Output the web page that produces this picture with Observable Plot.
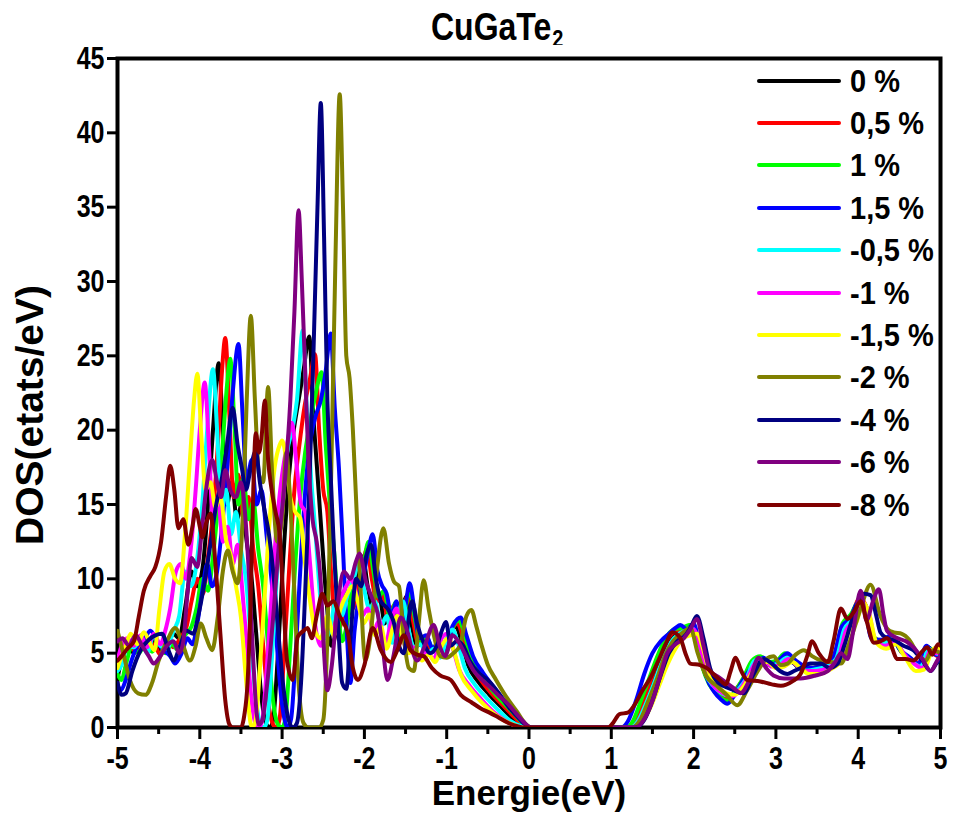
<!DOCTYPE html>
<html>
<head>
<meta charset="utf-8">
<script src="https://cdn.jsdelivr.net/npm/d3@7"></script>
<script src="https://cdn.jsdelivr.net/npm/@observablehq/plot@0.6"></script>
<style>
  body { margin: 0; background: #fff; }
  #wrap { position: relative; width: 956px; height: 827px; font-family: "Liberation Sans", Arial, sans-serif; font-weight: bold; color: #000; }
  #title { position: absolute; left: 431px; top: 11px; font-size: 32px; line-height: 36px; white-space: nowrap; transform: scaleY(1.22); transform-origin: 0 29px; }
  #title sub { font-size: 20px; position: relative; top: 6px; vertical-align: baseline; margin-left: 1px; }
  #chart { position: absolute; left: 0; top: 45px; }
  #chart svg g[aria-label="x-axis tick label"],
  #chart svg g[aria-label="y-axis tick label"] { font-size: 25px !important; font-weight: bold; }
  #legend { position: absolute; left: 757px; top: 58px; width: 190px; padding-top: 1.5px; }
  .row { display: flex; align-items: center; height: 42.4px; white-space: nowrap; }
  .swatch { width: 84px; height: 4px; border-radius: 2px; flex: none; margin-right: 9px; }
  .lab { font-size: 29px; line-height: 30px; transform: scaleY(1.08); }
</style>
</head>
<body>
<div id="wrap">
  <div id="title">CuGaTe<sub>2</sub></div>
  <div id="chart"></div>
  <div id="legend"></div>
</div>
<script>
// Strain levels and their line colours
const strains = ["0 %", "0,5 %", "1 %", "1,5 %", "-0,5 %", "-1 %", "-1,5 %", "-2 %", "-4 %", "-6 %", "-8 %"];
const colors = ["#000000", "#ff0000", "#00ff00", "#0000ff", "#00ffff", "#ff00ff", "#ffff00", "#808000", "#000080", "#800080", "#800000"];

// Total density of states, [energy (eV), DOS (states/eV)]
const dos0 = [[-5,3.3],[-4.95,4.6],[-4.88,5.6],[-4.8,5.0],[-4.72,5.8],[-4.64,5.1],[-4.56,5.9],[-4.48,5.2],[-4.4,5.5],[-4.32,6.3],[-4.25,6.0],[-4.18,8.0],[-4.1,10.5],[-4.03,9.5],[-3.96,11.0],[-3.9,15.0],[-3.84,20.0],[-3.77,24.5],[-3.72,20.0],[-3.67,15.0],[-3.61,16.5],[-3.55,14.0],[-3.49,15.0],[-3.43,12.5],[-3.37,10.0],[-3.31,6.0],[-3.25,2.0],[-3.19,0.2],[-3.15,0],[-3.11,0.5],[-3.05,5.0],[-2.99,11.0],[-2.93,16.0],[-2.87,19.5],[-2.8,22.0],[-2.74,24.0],[-2.67,26.3],[-2.62,21.0],[-2.57,17.0],[-2.52,13.0],[-2.46,8.5],[-2.4,5.5],[-2.34,6.5],[-2.27,8.5],[-2.2,7.5],[-2.13,9.5],[-2.07,10.5],[-2.02,11.5],[-1.96,9.5],[-1.89,8.0],[-1.82,8.8],[-1.75,7.0],[-1.68,7.8],[-1.61,5.8],[-1.55,7.5],[-1.49,8.8],[-1.43,7.0],[-1.36,5.5],[-1.28,5.8],[-1.2,5.0],[-1.12,5.4],[-1.04,4.8],[-0.96,6.2],[-0.89,6.8],[-0.82,5.8],[-0.74,4.2],[-0.62,3.1],[-0.48,2.2],[-0.34,1.4],[-0.2,0.6],[-0.08,0.1],[-0.02,0],[1.22,0],[1.3,0.4],[1.4,1.6],[1.5,3.0],[1.6,4.5],[1.7,5.7],[1.8,6.4],[1.9,6.5],[1.97,6.8],[2.05,5.6],[2.13,3.8],[2.22,2.9],[2.32,2.3],[2.43,2.0],[2.53,2.5],[2.63,3.3],[2.72,4.4],[2.82,4.6],[2.92,4.2],[3.02,4.4],[3.12,4.8],[3.22,4.3],[3.32,3.9],[3.46,4.0],[3.6,4.2],[3.72,4.7],[3.82,6.8],[3.92,7.4],[4.02,8.6],[4.1,8.0],[4.18,6.0],[4.3,5.7],[4.42,6.1],[4.52,5.2],[4.65,4.5],[4.75,4.2],[4.85,5.4],[4.93,5.0],[5,4.8]];

const dos05 = [[-5,4.0],[-4.95,5.0],[-4.88,5.8],[-4.8,5.2],[-4.72,5.6],[-4.64,5.4],[-4.56,5.6],[-4.48,4.9],[-4.4,5.8],[-4.32,5.4],[-4.24,6.0],[-4.16,6.8],[-4.1,8.5],[-4.03,10.0],[-3.96,9.0],[-3.9,11.5],[-3.83,15.0],[-3.77,20.0],[-3.73,24.0],[-3.69,26.2],[-3.64,21.0],[-3.59,15.5],[-3.53,17.0],[-3.47,14.0],[-3.41,15.5],[-3.35,12.0],[-3.29,9.5],[-3.23,5.5],[-3.17,1.8],[-3.11,0.2],[-3.07,0],[-3.03,0.6],[-2.97,5.5],[-2.91,11.0],[-2.85,16.0],[-2.79,19.0],[-2.73,21.5],[-2.66,23.5],[-2.6,25.1],[-2.55,20.0],[-2.5,16.0],[-2.45,14.5],[-2.4,10.0],[-2.34,6.5],[-2.28,7.0],[-2.21,9.0],[-2.14,8.0],[-2.07,9.8],[-2.02,11.0],[-1.97,12.0],[-1.91,10.0],[-1.85,8.5],[-1.78,9.0],[-1.71,7.2],[-1.64,8.2],[-1.58,6.0],[-1.52,7.8],[-1.47,9.0],[-1.41,7.2],[-1.34,5.6],[-1.26,5.9],[-1.18,5.1],[-1.1,5.6],[-1.02,5.0],[-0.94,6.5],[-0.87,7.0],[-0.8,6.0],[-0.72,4.4],[-0.6,3.3],[-0.46,2.3],[-0.32,1.5],[-0.18,0.7],[-0.06,0.1],[0,0],[1.2,0],[1.28,0.4],[1.38,1.7],[1.48,3.2],[1.58,4.7],[1.68,5.9],[1.78,6.5],[1.88,6.6],[1.96,6.9],[2.04,5.8],[2.12,3.9],[2.2,3.0],[2.3,2.3],[2.42,1.9],[2.52,2.6],[2.62,3.4],[2.72,4.5],[2.82,4.7],[2.92,4.3],[3.02,4.5],[3.12,4.9],[3.22,4.4],[3.32,4.0],[3.46,4.0],[3.6,4.3],[3.72,4.8],[3.82,6.9],[3.92,7.6],[4.02,8.7],[4.1,8.1],[4.18,6.1],[4.3,5.8],[4.42,6.0],[4.52,5.1],[4.65,4.6],[4.75,4.3],[4.85,5.3],[4.93,4.9],[5,4.7]];

const dos1 = [[-5,3.6],[-4.95,3.2],[-4.9,4.2],[-4.82,5.5],[-4.74,5.0],[-4.66,5.7],[-4.58,5.1],[-4.5,5.7],[-4.42,5.0],[-4.34,5.6],[-4.26,5.2],[-4.18,6.2],[-4.1,6.8],[-4.04,8.0],[-3.97,10.0],[-3.9,9.2],[-3.84,11.5],[-3.77,15.5],[-3.71,20.0],[-3.67,23.0],[-3.63,24.8],[-3.58,20.5],[-3.53,15.0],[-3.47,16.8],[-3.41,14.0],[-3.35,15.2],[-3.29,12.0],[-3.23,9.5],[-3.17,5.5],[-3.11,1.8],[-3.05,0.2],[-3.0,0],[-2.96,0.6],[-2.9,5.5],[-2.84,11.0],[-2.78,15.5],[-2.72,18.5],[-2.66,20.5],[-2.59,22.5],[-2.52,23.9],[-2.47,19.0],[-2.42,15.0],[-2.37,12.0],[-2.32,8.0],[-2.27,5.8],[-2.21,7.0],[-2.14,9.2],[-2.08,8.5],[-2.02,10.5],[-1.95,12.5],[-1.89,10.5],[-1.83,8.8],[-1.76,9.2],[-1.69,7.4],[-1.62,8.4],[-1.56,6.2],[-1.5,8.0],[-1.45,9.3],[-1.39,7.4],[-1.32,5.8],[-1.24,6.0],[-1.16,5.2],[-1.08,5.7],[-1.0,5.1],[-0.92,6.8],[-0.85,7.2],[-0.78,6.2],[-0.7,4.6],[-0.58,3.5],[-0.45,2.5],[-0.3,1.6],[-0.16,0.8],[-0.05,0.15],[0.01,0],[1.18,0],[1.26,0.4],[1.36,1.8],[1.46,3.3],[1.56,4.8],[1.66,6.0],[1.76,6.6],[1.86,6.7],[1.95,6.9],[2.03,5.9],[2.11,4.0],[2.19,2.9],[2.29,2.2],[2.41,1.8],[2.51,2.5],[2.61,3.4],[2.71,4.5],[2.81,4.8],[2.91,4.4],[3.01,4.5],[3.11,5.0],[3.21,4.5],[3.31,4.0],[3.45,4.0],[3.59,4.2],[3.71,4.8],[3.81,7.0],[3.91,7.6],[4.01,8.5],[4.09,8.2],[4.17,6.2],[4.29,5.8],[4.41,6.0],[4.51,5.2],[4.64,4.6],[4.74,4.2],[4.84,5.4],[4.92,5.0],[5,4.8]];

const dos15 = [[-5,2.9],[-4.96,2.5],[-4.9,3.2],[-4.83,4.5],[-4.75,5.6],[-4.67,6.0],[-4.6,6.5],[-4.52,5.8],[-4.44,5.2],[-4.36,4.8],[-4.3,4.3],[-4.22,5.0],[-4.15,6.0],[-4.09,5.6],[-4.03,7.0],[-3.97,9.2],[-3.91,11.0],[-3.85,9.5],[-3.79,10.5],[-3.73,13.5],[-3.66,18.0],[-3.6,22.5],[-3.53,25.8],[-3.48,21.0],[-3.43,16.5],[-3.37,18.0],[-3.31,15.0],[-3.25,16.0],[-3.19,13.0],[-3.13,10.0],[-3.07,6.0],[-3.01,2.0],[-2.96,0.3],[-2.93,0],[-2.89,0.6],[-2.83,5.5],[-2.77,11.5],[-2.71,16.5],[-2.65,19.5],[-2.59,21.0],[-2.53,22.0],[-2.47,24.0],[-2.41,26.5],[-2.36,21.5],[-2.31,17.5],[-2.26,12.0],[-2.21,6.0],[-2.17,3.0],[-2.12,6.5],[-2.06,9.0],[-2.0,10.5],[-1.95,12.0],[-1.9,13.0],[-1.84,10.5],[-1.79,9.6],[-1.73,9.0],[-1.67,7.5],[-1.61,8.5],[-1.55,6.5],[-1.5,8.2],[-1.45,9.7],[-1.39,7.8],[-1.33,6.0],[-1.25,6.2],[-1.17,5.3],[-1.09,5.9],[-1.01,5.3],[-0.93,6.8],[-0.87,7.3],[-0.83,7.4],[-0.76,6.2],[-0.68,4.8],[-0.56,3.7],[-0.44,2.8],[-0.3,1.8],[-0.16,0.9],[-0.05,0.2],[0.02,0],[1.12,0],[1.2,0.4],[1.3,1.8],[1.4,3.6],[1.5,5.0],[1.6,5.8],[1.7,6.3],[1.78,6.7],[1.84,6.9],[1.92,6.6],[2.0,7.0],[2.07,5.5],[2.15,3.5],[2.25,2.4],[2.33,1.9],[2.41,1.6],[2.5,2.2],[2.6,3.2],[2.7,4.0],[2.78,4.3],[2.85,4.7],[2.95,4.2],[3.05,4.6],[3.14,5.0],[3.22,4.6],[3.32,4.2],[3.45,4.0],[3.58,4.3],[3.7,4.8],[3.8,6.8],[3.9,7.3],[4.0,8.4],[4.08,8.0],[4.16,6.0],[4.28,5.9],[4.4,6.2],[4.5,5.3],[4.63,4.7],[4.73,4.3],[4.83,5.5],[4.91,5.0],[5,4.8]];

const dosM05 = [[-5,3.8],[-4.95,4.2],[-4.88,5.5],[-4.8,5.4],[-4.72,6.0],[-4.64,5.0],[-4.56,6.2],[-4.48,5.5],[-4.4,5.3],[-4.32,6.5],[-4.25,7.5],[-4.18,10.5],[-4.11,9.5],[-4.04,11.0],[-3.97,15.0],[-3.91,20.0],[-3.84,24.1],[-3.79,20.0],[-3.74,14.5],[-3.68,16.0],[-3.62,13.0],[-3.56,14.5],[-3.5,12.0],[-3.44,10.0],[-3.38,6.0],[-3.32,2.0],[-3.26,0.2],[-3.22,0],[-3.18,0.5],[-3.12,5.0],[-3.06,10.5],[-3.0,15.5],[-2.94,18.5],[-2.87,20.2],[-2.82,22.0],[-2.75,26.7],[-2.7,21.5],[-2.65,17.0],[-2.6,13.5],[-2.54,9.0],[-2.48,6.0],[-2.42,6.5],[-2.35,8.5],[-2.28,7.5],[-2.2,9.0],[-2.13,10.0],[-2.07,11.0],[-2.01,9.5],[-1.94,8.0],[-1.87,8.5],[-1.8,6.8],[-1.73,7.5],[-1.66,5.7],[-1.6,7.2],[-1.53,8.5],[-1.47,6.8],[-1.4,5.4],[-1.32,5.6],[-1.24,4.9],[-1.16,5.3],[-1.08,4.7],[-1.0,6.0],[-0.93,6.6],[-0.86,5.6],[-0.78,4.0],[-0.66,2.9],[-0.52,2.0],[-0.38,1.2],[-0.24,0.5],[-0.1,0.1],[-0.04,0],[1.24,0],[1.32,0.4],[1.42,1.6],[1.52,3.0],[1.62,4.5],[1.72,5.7],[1.82,6.3],[1.9,6.5],[1.98,6.7],[2.06,5.5],[2.14,3.7],[2.24,2.8],[2.34,2.3],[2.45,2.1],[2.55,2.6],[2.65,3.4],[2.74,4.5],[2.83,4.6],[2.93,4.2],[3.03,4.3],[3.13,4.7],[3.23,4.3],[3.33,3.8],[3.47,3.9],[3.61,4.1],[3.73,4.6],[3.83,6.6],[3.93,7.3],[4.03,8.5],[4.11,7.9],[4.19,5.9],[4.31,5.6],[4.43,6.0],[4.53,5.1],[4.66,4.4],[4.76,4.1],[4.86,5.3],[4.94,5.0],[5,4.9]];

const dosM1 = [[-5,4.5],[-4.95,5.5],[-4.88,6.0],[-4.8,5.5],[-4.72,6.2],[-4.64,5.4],[-4.56,6.3],[-4.48,5.6],[-4.42,6.5],[-4.36,8.0],[-4.29,10.5],[-4.23,11.0],[-4.17,10.0],[-4.11,12.0],[-4.05,16.0],[-4.0,20.0],[-3.94,23.2],[-3.89,19.0],[-3.84,14.0],[-3.78,15.5],[-3.72,12.5],[-3.66,13.5],[-3.6,11.0],[-3.54,12.3],[-3.48,9.0],[-3.42,5.0],[-3.37,1.8],[-3.32,0.2],[-3.28,0],[-3.24,0.5],[-3.18,4.5],[-3.12,9.5],[-3.06,14.0],[-3.0,17.0],[-2.94,19.0],[-2.88,20.5],[-2.83,18.0],[-2.77,15.0],[-2.72,14.5],[-2.66,11.0],[-2.6,7.0],[-2.53,5.5],[-2.46,7.0],[-2.38,6.5],[-2.3,8.5],[-2.22,9.5],[-2.16,10.0],[-2.1,9.0],[-2.03,7.5],[-1.96,8.0],[-1.89,6.5],[-1.82,7.2],[-1.75,5.5],[-1.68,7.0],[-1.61,8.0],[-1.55,6.5],[-1.48,5.2],[-1.4,5.4],[-1.32,4.7],[-1.24,5.1],[-1.16,4.6],[-1.08,5.8],[-1.0,6.3],[-0.93,5.4],[-0.85,3.9],[-0.72,2.8],[-0.58,1.9],[-0.44,1.1],[-0.3,0.5],[-0.16,0.1],[-0.08,0],[1.26,0],[1.34,0.4],[1.44,1.5],[1.54,2.9],[1.64,4.3],[1.74,5.5],[1.84,6.2],[1.92,6.4],[2.0,6.6],[2.08,5.4],[2.16,3.6],[2.26,2.7],[2.36,2.3],[2.47,2.1],[2.57,2.6],[2.67,3.5],[2.76,4.4],[2.85,4.5],[2.95,4.1],[3.05,4.2],[3.15,4.6],[3.25,4.2],[3.35,3.8],[3.49,3.8],[3.63,4.0],[3.75,4.5],[3.85,6.5],[3.95,7.2],[4.05,8.3],[4.13,7.7],[4.21,5.8],[4.33,5.5],[4.45,5.8],[4.55,5.0],[4.68,4.3],[4.78,4.0],[4.88,5.2],[4.95,5.0],[5,5.2]];

const dosM15 = [[-5,4.0],[-4.95,4.8],[-4.9,5.5],[-4.84,6.3],[-4.76,5.6],[-4.68,6.4],[-4.6,5.6],[-4.55,5.2],[-4.49,8.0],[-4.43,10.5],[-4.37,11.0],[-4.3,10.0],[-4.24,9.7],[-4.18,13.0],[-4.12,18.0],[-4.07,22.0],[-4.03,23.8],[-3.98,19.5],[-3.93,16.0],[-3.87,16.5],[-3.81,14.8],[-3.75,15.5],[-3.68,12.6],[-3.62,11.5],[-3.56,9.5],[-3.5,7.4],[-3.45,4.0],[-3.41,1.5],[-3.38,0.2],[-3.36,0],[-3.32,0.5],[-3.27,4.0],[-3.21,9.0],[-3.15,14.0],[-3.09,17.5],[-3.03,19.0],[-3.0,19.3],[-2.95,18.0],[-2.9,15.5],[-2.84,14.5],[-2.78,14.1],[-2.72,11.0],[-2.66,8.5],[-2.6,6.5],[-2.53,6.0],[-2.45,7.5],[-2.37,6.2],[-2.29,8.0],[-2.21,9.0],[-2.15,9.5],[-2.08,8.5],[-2.01,7.0],[-1.94,7.6],[-1.87,6.2],[-1.8,6.8],[-1.73,5.3],[-1.66,6.6],[-1.6,7.5],[-1.54,6.2],[-1.46,5.0],[-1.38,5.2],[-1.3,4.5],[-1.22,4.9],[-1.14,4.4],[-1.06,5.5],[-0.98,6.0],[-0.91,5.1],[-0.83,3.6],[-0.7,2.5],[-0.56,1.6],[-0.42,0.9],[-0.28,0.4],[-0.15,0.1],[-0.1,0],[1.3,0],[1.38,0.4],[1.48,1.4],[1.58,2.8],[1.68,4.2],[1.78,5.3],[1.88,6.0],[1.96,6.2],[2.04,6.3],[2.12,5.2],[2.2,3.5],[2.3,2.7],[2.4,2.3],[2.5,2.2],[2.6,2.7],[2.7,3.6],[2.8,4.3],[2.9,4.4],[3.0,4.0],[3.1,4.1],[3.2,4.4],[3.3,4.0],[3.4,3.6],[3.53,3.6],[3.66,3.9],[3.78,4.4],[3.88,6.4],[3.98,7.1],[4.06,8.4],[4.14,7.5],[4.22,5.7],[4.34,5.3],[4.46,5.6],[4.56,4.8],[4.7,3.8],[4.8,3.9],[4.9,5.2],[4.96,5.4],[5,5.3]];

const dosM2 = [[-5,6.5],[-4.93,5.0],[-4.85,3.2],[-4.75,2.3],[-4.66,2.2],[-4.58,3.0],[-4.5,4.5],[-4.4,5.8],[-4.3,6.7],[-4.22,5.8],[-4.12,4.5],[-4.05,5.5],[-3.99,7.0],[-3.92,6.0],[-3.85,5.2],[-3.78,7.5],[-3.72,10.5],[-3.66,11.9],[-3.6,10.5],[-3.54,9.7],[-3.48,14.0],[-3.43,22.0],[-3.38,27.7],[-3.33,22.0],[-3.28,17.0],[-3.23,16.5],[-3.17,22.9],[-3.12,17.0],[-3.06,12.5],[-3.0,14.0],[-2.95,18.5],[-2.9,15.0],[-2.85,9.0],[-2.8,3.0],[-2.74,0.3],[-2.68,0],[-2.55,0],[-2.5,0.5],[-2.45,6.0],[-2.4,18.0],[-2.35,32.0],[-2.3,42.6],[-2.26,35.0],[-2.22,25.0],[-2.18,23.5],[-2.14,20.0],[-2.09,14.0],[-2.05,9.7],[-1.99,4.5],[-1.93,6.0],[-1.85,10.5],[-1.77,13.4],[-1.7,11.0],[-1.64,9.8],[-1.58,9.5],[-1.52,6.0],[-1.46,4.0],[-1.4,3.8],[-1.34,7.0],[-1.28,9.9],[-1.22,8.0],[-1.16,6.3],[-1.08,4.8],[-1.0,4.7],[-0.92,5.0],[-0.84,5.5],[-0.76,7.5],[-0.7,7.9],[-0.64,6.8],[-0.58,5.6],[-0.5,4.2],[-0.4,3.2],[-0.28,2.1],[-0.15,1.1],[-0.05,0.3],[0.04,0],[1.25,0],[1.35,0.5],[1.45,1.8],[1.55,3.2],[1.65,4.8],[1.75,5.8],[1.85,6.3],[1.96,6.7],[2.05,5.0],[2.15,3.5],[2.28,2.8],[2.4,2.2],[2.53,1.5],[2.65,2.5],[2.78,3.8],[2.88,4.6],[2.97,4.8],[3.06,4.2],[3.14,4.3],[3.24,4.9],[3.34,5.2],[3.44,4.8],[3.55,4.5],[3.67,4.4],[3.79,4.3],[3.9,5.8],[4.03,8.0],[4.15,9.6],[4.27,7.5],[4.36,6.6],[4.43,6.4],[4.53,6.3],[4.62,5.9],[4.72,5.0],[4.82,4.5],[4.9,5.2],[5,5.0]];

const dosM4 = [[-5,3.0],[-4.95,2.2],[-4.9,2.3],[-4.82,3.8],[-4.72,5.2],[-4.62,5.9],[-4.54,6.2],[-4.46,6.3],[-4.38,5.2],[-4.32,4.5],[-4.24,5.5],[-4.16,6.5],[-4.08,6.3],[-4.02,7.5],[-3.95,9.5],[-3.88,12.0],[-3.8,15.0],[-3.74,16.5],[-3.68,18.5],[-3.6,21.5],[-3.54,19.0],[-3.49,17.5],[-3.44,16.0],[-3.38,17.5],[-3.32,18.6],[-3.27,16.5],[-3.22,14.8],[-3.16,13.0],[-3.1,10.0],[-3.04,6.0],[-2.98,2.5],[-2.92,0.5],[-2.87,0],[-2.82,0.3],[-2.77,3.0],[-2.72,9.0],[-2.67,16.0],[-2.62,25.0],[-2.57,35.0],[-2.53,42.0],[-2.49,33.0],[-2.45,22.0],[-2.41,17.0],[-2.37,12.0],[-2.32,7.0],[-2.27,3.0],[-2.22,2.6],[-2.17,6.0],[-2.1,10.0],[-2.04,9.5],[-1.98,11.5],[-1.92,12.3],[-1.86,10.0],[-1.8,8.5],[-1.72,8.0],[-1.65,7.2],[-1.58,5.5],[-1.52,5.0],[-1.47,7.0],[-1.42,8.5],[-1.36,7.0],[-1.28,5.7],[-1.2,5.0],[-1.12,5.5],[-1.06,6.5],[-1.01,7.1],[-0.95,5.5],[-0.88,5.8],[-0.8,5.5],[-0.72,4.5],[-0.6,3.6],[-0.5,3.2],[-0.38,2.4],[-0.25,1.4],[-0.12,0.6],[0,0.05],[0.05,0],[1.3,0],[1.4,0.5],[1.5,1.8],[1.6,3.5],[1.7,5.0],[1.8,5.8],[1.9,6.2],[1.97,6.8],[2.04,7.5],[2.12,6.0],[2.2,4.0],[2.3,3.0],[2.45,2.6],[2.61,2.3],[2.72,3.5],[2.85,4.6],[2.95,4.3],[3.05,3.8],[3.14,3.6],[3.22,3.8],[3.3,4.0],[3.42,4.3],[3.55,4.3],[3.65,4.0],[3.75,4.3],[3.83,5.5],[3.9,6.8],[3.98,8.2],[4.07,9.0],[4.15,8.9],[4.22,7.5],[4.27,6.4],[4.35,6.0],[4.43,5.9],[4.55,5.5],[4.67,5.2],[4.78,4.5],[4.88,3.8],[4.95,4.3],[5,4.6]];

const dosM6 = [[-5,5.8],[-4.94,6.0],[-4.86,5.5],[-4.78,6.2],[-4.7,5.5],[-4.62,4.8],[-4.56,4.3],[-4.48,4.8],[-4.4,5.5],[-4.32,5.8],[-4.25,5.0],[-4.2,5.8],[-4.15,9.0],[-4.1,11.4],[-4.03,10.8],[-3.98,13.0],[-3.93,15.7],[-3.85,18.0],[-3.79,16.5],[-3.74,15.5],[-3.69,17.3],[-3.63,16.0],[-3.56,15.5],[-3.5,16.5],[-3.45,14.4],[-3.4,10.0],[-3.35,4.5],[-3.31,1.0],[-3.28,0.2],[-3.24,0.5],[-3.18,3.0],[-3.1,8.0],[-3.03,13.0],[-2.96,17.0],[-2.9,22.0],[-2.85,28.0],[-2.8,34.8],[-2.76,30.0],[-2.72,24.0],[-2.68,18.0],[-2.63,14.0],[-2.58,12.5],[-2.53,9.7],[-2.49,5.0],[-2.45,2.5],[-2.4,4.0],[-2.33,8.0],[-2.25,10.5],[-2.17,10.0],[-2.1,11.2],[-2.06,11.7],[-1.98,9.8],[-1.9,8.6],[-1.84,7.7],[-1.78,5.5],[-1.72,3.2],[-1.64,5.0],[-1.56,7.4],[-1.48,6.5],[-1.42,5.2],[-1.36,4.5],[-1.26,5.6],[-1.16,6.9],[-1.08,5.4],[-1.02,4.8],[-0.93,6.2],[-0.84,5.6],[-0.75,4.6],[-0.67,3.8],[-0.57,3.2],[-0.47,2.7],[-0.36,2.1],[-0.26,1.6],[-0.15,0.9],[-0.07,0.4],[0.02,0],[1.3,0],[1.38,0.4],[1.48,1.5],[1.58,3.2],[1.68,5.0],[1.78,5.6],[1.88,6.0],[1.96,6.6],[2.04,7.3],[2.12,5.5],[2.2,3.8],[2.3,3.4],[2.4,3.0],[2.5,2.6],[2.57,2.3],[2.68,3.2],[2.79,4.7],[2.88,4.0],[2.97,3.5],[3.1,3.3],[3.3,3.3],[3.48,3.5],[3.63,3.8],[3.72,4.4],[3.79,5.0],[3.87,4.6],[3.94,6.5],[4.03,9.2],[4.1,7.2],[4.18,8.5],[4.25,9.3],[4.31,7.5],[4.35,6.5],[4.48,6.0],[4.58,5.8],[4.67,5.4],[4.78,4.6],[4.88,3.8],[4.95,4.4],[5,4.9]];

const dosM8 = [[-5,4.5],[-4.95,4.8],[-4.88,5.3],[-4.8,5.8],[-4.74,7.5],[-4.68,9.2],[-4.6,10.2],[-4.54,10.8],[-4.47,12.5],[-4.41,15.5],[-4.36,17.6],[-4.31,16.0],[-4.26,13.4],[-4.2,14.0],[-4.14,12.3],[-4.09,13.5],[-4.05,14.7],[-4.0,13.5],[-3.97,12.8],[-3.92,13.8],[-3.87,14.4],[-3.81,11.0],[-3.75,6.3],[-3.69,1.8],[-3.64,0.2],[-3.6,0],[-3.5,0],[-3.46,0.8],[-3.42,3.0],[-3.38,9.0],[-3.35,16.0],[-3.32,19.8],[-3.28,18.5],[-3.25,19.5],[-3.21,22.0],[-3.17,18.0],[-3.13,16.1],[-3.08,14.5],[-3.03,13.0],[-2.98,8.0],[-2.94,4.5],[-2.87,3.2],[-2.81,6.1],[-2.74,6.5],[-2.69,6.7],[-2.64,6.0],[-2.58,7.5],[-2.51,9.0],[-2.45,8.2],[-2.38,8.5],[-2.3,7.5],[-2.2,6.3],[-2.14,4.0],[-2.08,3.2],[-2.0,4.2],[-1.9,6.7],[-1.8,5.2],[-1.68,4.4],[-1.6,5.2],[-1.52,6.2],[-1.44,5.2],[-1.36,4.9],[-1.28,4.8],[-1.18,4.0],[-1.08,3.5],[-0.95,3.2],[-0.83,2.2],[-0.7,1.7],[-0.59,1.3],[-0.48,1.0],[-0.38,0.7],[-0.25,0.3],[-0.12,0.05],[-0.08,0],[0.96,0],[1.02,0.3],[1.1,0.9],[1.2,1.0],[1.28,1.5],[1.38,2.5],[1.48,3.4],[1.58,4.6],[1.66,5.6],[1.74,6.4],[1.84,6.0],[1.9,5.0],[1.96,4.3],[2.08,4.2],[2.16,4.0],[2.24,3.6],[2.32,3.2],[2.39,2.9],[2.45,3.8],[2.51,4.7],[2.58,3.8],[2.65,3.2],[2.81,3.1],[2.95,2.9],[3.06,2.8],[3.2,3.1],[3.3,3.6],[3.38,4.8],[3.44,5.8],[3.52,5.0],[3.63,4.4],[3.7,5.8],[3.79,8.0],[3.87,7.3],[3.95,7.8],[4.03,8.5],[4.1,7.2],[4.19,5.7],[4.27,5.8],[4.35,6.0],[4.48,4.6],[4.58,4.6],[4.67,4.5],[4.76,5.0],[4.84,5.4],[4.9,4.9],[4.97,5.6],[5,5.5]];

const seriesData = [dos0, dos05, dos1, dos15, dosM05, dosM1, dosM15, dosM2, dosM4, dosM6, dosM8];

// Axis ticks
const xMajor = [-5, -4, -3, -2, -1, 0, 1, 2, 3, 4, 5];
const xMinor = [-4.5, -3.5, -2.5, -1.5, -0.5, 0.5, 1.5, 2.5, 3.5, 4.5];
const yMajor = [0, 5, 10, 15, 20, 25, 30, 35, 40, 45];

// Long-form table for the line mark
const rows = seriesData.flatMap((pts, i) => pts.map(([e, d]) => ({strain: strains[i], energy: e, dos: d})));

const chart = Plot.plot({
  width: 956,
  height: 782,
  marginLeft: 117,
  marginRight: 16,
  marginTop: 13,
  marginBottom: 100,
  style: {fontFamily: "'Liberation Sans', Arial, sans-serif", fontWeight: "bold", fontSize: "24px", color: "#000", background: "#fff", overflow: "visible"},
  x: {domain: [-5, 5]},
  y: {domain: [0, 45]},
  color: {domain: strains, range: colors},
  marks: [
    Plot.frame({stroke: "#000", strokeWidth: 4}),
    Plot.axisX({ticks: xMinor, tickSize: 7, strokeWidth: 3, text: null, label: null}),
    Plot.axisX({ticks: xMajor, tickSize: 12, tickPadding: 7, strokeWidth: 3, fontSize: 25, tickFormat: d => String(d), label: null}),
    Plot.axisY({ticks: yMajor, tickSize: 10, tickPadding: 3, strokeWidth: 3, fontSize: 25, tickFormat: d => String(d), label: null}),
    Plot.text(["Energie(eV)"], {frameAnchor: "bottom", dy: 77, fontSize: 35, fontWeight: "bold"}),
    Plot.text(["DOS(etats/eV)"], {frameAnchor: "left", textAnchor: "middle", dx: -87, dy: 22, rotate: -90, fontSize: 39, fontWeight: "bold"}),
    Plot.line(rows, {x: "energy", y: "dos", z: "strain", stroke: "strain", strokeWidth: 4, curve: "monotone-x", clip: true})
  ]
});
document.getElementById("chart").appendChild(chart);

// Tick labels use a tall, condensed look: stretch them vertically about their anchor
chart.querySelectorAll('g[aria-label$="tick label"] text').forEach(t => {
  const tr = t.getAttribute("transform");
  if (tr) {
    t.setAttribute("transform", tr + " scale(1,1.28)");
  } else {
    const x = +t.getAttribute("x") || 0, y = +t.getAttribute("y") || 0;
    t.setAttribute("transform", `translate(${x},${y}) scale(1,1.28) translate(${-x},${-y})`);
  }
});

// Legend drawn inside the upper-right corner of the plot
const legend = document.getElementById("legend");
strains.forEach((s, i) => {
  const row = document.createElement("div");
  row.className = "row";
  const sw = document.createElement("div");
  sw.className = "swatch";
  sw.style.background = colors[i];
  const lab = document.createElement("span");
  lab.className = "lab";
  lab.textContent = s;
  row.appendChild(sw);
  row.appendChild(lab);
  legend.appendChild(row);
});
</script>
</body>
</html>
